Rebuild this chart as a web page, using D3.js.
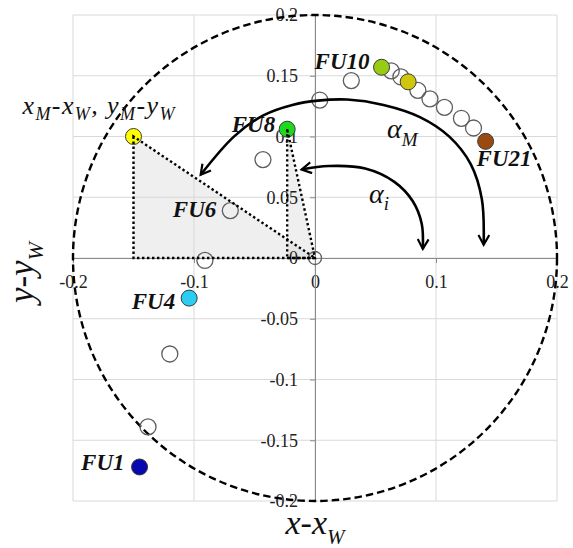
<!DOCTYPE html>
<html>
<head>
<meta charset="utf-8">
<script src="https://cdn.jsdelivr.net/npm/d3@7"></script>
<style>
  body { margin: 0; background: #fff; }
  svg { display: block; }
</style>
</head>
<body>
<svg id="chart" width="573" height="548"></svg>
<script>
// chromaticity of each unit relative to the white point W (x - xW, y - yW)
const pointX = [-0.145, -0.138, -0.120, -0.104, -0.091, -0.070, -0.043, -0.023, 0.004, 0.030,
                0.055, 0.063, 0.071, 0.077, 0.085, 0.095, 0.107, 0.121, 0.131, 0.141];
const pointY = [-0.172, -0.139, -0.079, -0.033, -0.002, 0.039, 0.081, 0.106, 0.130, 0.146,
                0.157, 0.154, 0.149, 0.145, 0.138, 0.131, 0.124, 0.115, 0.107, 0.096];

// labelled units and the point they belong to
const labelNames = ["FU1", "FU4", "FU6", "FU8", "FU10", "FU21"];
const labelPoint = [0, 3, 5, 7, 10, 19];

// mixture point M and the white point (origin)
const mixX = -0.15, mixY = 0.10;
const whiteX = 0, whiteY = 0;

// locus circle radius
const locusRadius = 0.2;

// tick values
const xTicks = [-0.2, -0.1, 0, 0.1, 0.2];
const yTicks = [-0.2, -0.15, -0.1, -0.05, 0, 0.05, 0.1, 0.15, 0.2];

// angle arrows (traced in chart units)
const alphaMArc = [[-0.0945, 0.0685], [-0.0668, 0.1001], [-0.0427, 0.1174], [-0.0187, 0.1260],
                   [0.0024, 0.1295], [0.0265, 0.1304], [0.0566, 0.1260], [0.0867, 0.1160],
                   [0.1108, 0.1001], [0.1288, 0.0771], [0.1379, 0.0483], [0.1394, 0.0109]];
const alphaIArc = [[-0.0111, 0.0728], [0.0114, 0.0757], [0.0415, 0.0737], [0.0656, 0.0627],
                   [0.0807, 0.0469], [0.0882, 0.0282], [0.0891, 0.0075]];
const alphaMPos = [0.0595, 0.0988];
const alphaIPos = [0.0446, 0.0453];

// ---- styles / layout ----
const serif = '"Liberation Serif", "Times New Roman", "DejaVu Serif", serif';
const fillByPoint = { 0: "#0808b0", 3: "#2ccdf3", 7: "#1ed81e", 10: "#98cb14", 13: "#cfc60e", 19: "#9a4a10" };
const labelOffset = {
    FU1: [-15, 3, "end"], FU4: [-14, 11, "end"], FU6: [-14, 6, "end"],
    FU8: [-12, 3, "end"], FU10: [-12, 2, "end"], FU21: [-9, 25, "start"]
};

const svg = d3.select("#chart");

const x = d3.scaleLinear().domain([-0.2, 0.2]).range([73, 557]);
const y = d3.scaleLinear().domain([-0.2, 0.2]).range([501, 15]);

// grid
const grid = svg.append("g").attr("stroke", "#d9d9d9").attr("stroke-width", 1);
grid.selectAll("line.v").data(xTicks).enter().append("line")
    .attr("x1", d => x(d)).attr("x2", d => x(d))
    .attr("y1", y(-0.2)).attr("y2", y(0.2));
grid.selectAll("line.h").data(yTicks).enter().append("line")
    .attr("x1", x(-0.2)).attr("x2", x(0.2))
    .attr("y1", d => y(d)).attr("y2", d => y(d));

// shaded triangles
const tri = (px, py) => [[px, py], [px, 0], [0, 0]];
const triLine = d3.line().x(d => x(d[0])).y(d => y(d[1]));
const triangles = [tri(mixX, mixY), tri(pointX[7], pointY[7])];
svg.selectAll("path.tri-fill").data(triangles).enter().append("path")
    .attr("d", d => triLine(d) + "Z")
    .attr("fill", "#d6d6d6").attr("fill-opacity", 0.4).attr("stroke", "none");

// axes through the origin
const axisStyle = g => {
    g.attr("font-family", serif).attr("font-size", 18);
    g.select(".domain").attr("stroke", "#8a8a8a");
    g.selectAll(".tick line").attr("stroke", "#8a8a8a");
    g.selectAll(".tick text").attr("fill", "#222");
};
const fmt = d => d === 0 ? "0" : String(+d.toFixed(2));
svg.append("g")
    .attr("transform", `translate(0,${y(0)})`)
    .call(d3.axisBottom(x).tickValues(xTicks).tickSize(5).tickSizeOuter(0).tickPadding(12).tickFormat(fmt))
    .call(axisStyle);
svg.append("g")
    .attr("transform", `translate(${x(0)},0)`)
    .call(d3.axisLeft(y).tickValues(yTicks).tickSize(5).tickSizeOuter(0).tickPadding(12).tickFormat(fmt))
    .call(axisStyle);

// dashed locus circle
svg.append("ellipse")
    .attr("cx", x(0)).attr("cy", y(0))
    .attr("rx", x(locusRadius) - x(0)).attr("ry", y(0) - y(locusRadius))
    .attr("fill", "none").attr("stroke", "#000").attr("stroke-width", 2.4)
    .attr("stroke-dasharray", "7.5,4");

// points
const pts = pointX.map((v, i) => ({ x: v, y: pointY[i], i: i }));
svg.selectAll("circle.open").data(pts.filter(d => !fillByPoint[d.i])).enter().append("circle")
    .attr("cx", d => x(d.x)).attr("cy", d => y(d.y)).attr("r", 8)
    .attr("fill", "none").attr("stroke", "#5e5e5e").attr("stroke-width", 1.3);
svg.append("circle")
    .attr("cx", x(whiteX)).attr("cy", y(whiteY)).attr("r", 6.5)
    .attr("fill", "none").attr("stroke", "#5e5e5e").attr("stroke-width", 1.3);
svg.selectAll("circle.fill").data(pts.filter(d => fillByPoint[d.i])).enter().append("circle")
    .attr("cx", d => x(d.x)).attr("cy", d => y(d.y)).attr("r", 8)
    .attr("fill", d => fillByPoint[d.i]).attr("stroke", "#3a3a3a").attr("stroke-width", 1);
svg.append("circle")
    .attr("cx", x(mixX)).attr("cy", y(mixY)).attr("r", 8)
    .attr("fill", "#ffff00").attr("stroke", "#3a3a3a").attr("stroke-width", 1);

// dotted triangle outlines
svg.selectAll("path.tri-line").data(triangles).enter().append("path")
    .attr("d", d => triLine(d) + "Z")
    .attr("fill", "none").attr("stroke", "#000").attr("stroke-width", 2.4)
    .attr("stroke-dasharray", "2.4,2.6");

// arrows
svg.append("defs").append("marker")
    .attr("id", "head").attr("viewBox", "0 0 12 12")
    .attr("refX", 10).attr("refY", 6)
    .attr("markerWidth", 13).attr("markerHeight", 13)
    .attr("markerUnits", "userSpaceOnUse")
    .attr("orient", "auto-start-reverse")
    .append("path").attr("d", "M1,1 L10,6 L1,11")
    .attr("fill", "none").attr("stroke", "#000").attr("stroke-width", 2);
const arcLine = d3.line().x(d => x(d[0])).y(d => y(d[1])).curve(d3.curveCatmullRom);
[alphaMArc, alphaIArc].forEach(a => {
    svg.append("path").attr("d", arcLine(a))
        .attr("fill", "none").attr("stroke", "#000").attr("stroke-width", 2.6)
        .attr("marker-start", "url(#head)").attr("marker-end", "url(#head)");
});

// text with subscripts: parts = [[text, sub]]
function richText(g, parts, size, subSize, shift) {
    let down = false;
    g.attr("font-family", serif).attr("font-style", "italic").attr("fill", "#111");
    parts.forEach(([t, sub]) => {
        const ts = g.append("tspan").text(t).attr("font-size", sub ? subSize : size);
        if (sub && !down) { ts.attr("dy", shift); down = true; }
        else if (!sub && down) { ts.attr("dy", -shift); down = false; }
    });
    return g;
}

// unit labels
labelNames.forEach((name, k) => {
    const p = labelPoint[k];
    const [dx, dy, anchor] = labelOffset[name];
    svg.append("text")
        .attr("x", x(pointX[p]) + dx).attr("y", y(pointY[p]) + dy)
        .attr("text-anchor", anchor)
        .attr("font-family", serif).attr("font-size", 23)
        .attr("font-weight", "bold").attr("font-style", "italic")
        .attr("fill", "#111")
        .text(name);
});

// mixture label
richText(svg.append("text")
    .attr("x", x(mixX) - 111).attr("y", y(mixY) - 23)
    .attr("letter-spacing", 1.4),
    [["x", false], ["M", true], ["-x", false], ["W", true], [", y", false], ["M", true], ["-y", false], ["W", true]],
    26, 18, 6);

// angle labels
richText(svg.append("text").attr("x", x(alphaMPos[0])).attr("y", y(alphaMPos[1])),
    [["α", false], ["M", true]], 28, 19, 8);
richText(svg.append("text").attr("x", x(alphaIPos[0])).attr("y", y(alphaIPos[1])),
    [["α", false], ["i", true]], 28, 19, 7);

// axis titles
richText(svg.append("text").attr("x", x(0)).attr("y", 534).attr("text-anchor", "middle"),
    [["x-x", false], ["W", true]], 34, 21, 10);
richText(svg.append("text").attr("transform", `translate(33,${y(-0.012)}) rotate(-90)`)
    .attr("text-anchor", "middle"),
    [["y-y", false], ["W", true]], 35, 22, 10);
</script>
</body>
</html>
